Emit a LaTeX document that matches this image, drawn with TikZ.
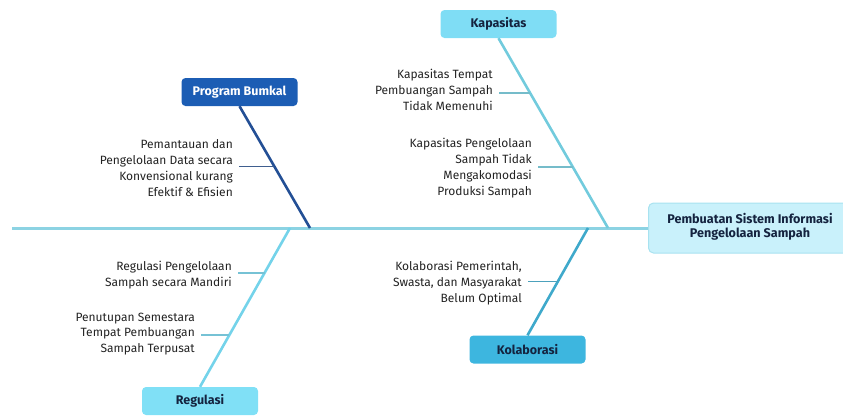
\documentclass[tikz,border=0pt]{standalone}
\usepackage{fontspec}
\setmainfont{Fira Sans}
\usetikzlibrary{calc}
\definecolor{spinec}{HTML}{8CD3E3}
\definecolor{headfill}{HTML}{C9F1FB}
\definecolor{headdraw}{HTML}{A8E2F0}
\definecolor{kapfill}{HTML}{7FDDF5}
\definecolor{kolfill}{HTML}{3DB6DF}
\definecolor{regfill}{HTML}{80E0F6}
\definecolor{pbfill}{HTML}{1C5DB4}
\definecolor{navy}{HTML}{14233F}
\definecolor{txt}{HTML}{222222}
\definecolor{pbline}{HTML}{234F95}
\definecolor{kapline}{HTML}{72CBDD}
\definecolor{regline}{HTML}{74D3EA}
\definecolor{kolline}{HTML}{3FA9CB}
\tikzset{
  catbox/.style={rounded corners=4pt, minimum width=116pt, minimum height=28pt, inner sep=0pt, font=\fontsize{12.5}{14}\selectfont\bfseries, text=navy},
  subtext/.style={align=right, anchor=east, inner sep=1pt, font=\fontsize{12}{15.8}\selectfont, text=txt},
  bone/.style={line width=2.6pt},
  twig/.style={line width=1.5pt},
}
\begin{document}
\begin{tikzpicture}[x=1pt,y=-1pt]
\useasboundingbox (0,0) rectangle (843,416);
% head
\node[draw=headdraw, fill=headfill, line width=1pt, rounded corners=5pt, minimum width=202pt, minimum height=50pt, anchor=west, inner sep=0pt] (head) at (648,228) {};
\node[align=center, font=\fontsize{12.6}{14}\selectfont\bfseries, text=navy] (headt) at (750,227) {Pembuatan Sistem Informasi\\Pengelolaan Sampah};
\coordinate (tail) at (12,228);
\draw[spinec, line width=3pt] (tail) -- (head.west);
% category boxes
\node[catbox, fill=kapfill] (kap) at (498.5,24) {Kapasitas};
\node[catbox, fill=pbfill, text=white] (pb) at (239.5,92) {Program Bumkal};
\node[catbox, fill=regfill] (reg) at (200,401) {Regulasi};
\node[catbox, fill=kolfill] (kol) at (527.5,349.5) {Kolaborasi};
% junctions on spine
\coordinate (kapS) at (608,228);
\coordinate (pbS) at (310,228);
\coordinate (regS) at (290,228);
\coordinate (kolS) at (588,228);
\draw[bone, kapline] (kap.south) -- (kapS);
\draw[bone, pbline] (pb.south) -- (pbS);
\draw[bone, regline] (reg.north) -- (regS);
\draw[bone, kolline] (kol.north) -- (kolS);
% points on bones
\path (kap.south) -- (kapS) coordinate[pos=0.289] (k1) coordinate[pos=0.679] (k2);
\path (pb.south) -- (pbS) coordinate[pos=0.496] (p1);
\path (regS) -- (reg.north) coordinate[pos=0.283] (r1) coordinate[pos=0.673] (r2);
\path (kolS) -- (kol.north) coordinate[pos=0.5] (c1);
% sub texts
\node[subtext] (tk1) at (494,90) {Kapasitas Tempat\\Pembuangan Sampah\\Tidak Memenuhi};
\node[subtext] (tk2) at (533,168) {Kapasitas Pengelolaan\\Sampah Tidak\\Mengakomodasi\\Produksi Sampah};
\node[subtext] (tp1) at (234,168) {Pemantauan dan\\Pengelolaan Data secara\\Konvensional kurang\\Efektif \& Efisien};
\node[subtext] (tr1) at (233,275) {Regulasi Pengelolaan\\Sampah secara Mandiri};
\node[subtext] (tr2) at (196,334) {Penutupan Semestara\\Tempat Pembuangan\\Sampah Terpusat};
\node[subtext] (tc1) at (523,283) {Kolaborasi Pemerintah,\\Swasta, dan Masyarakat\\Belum Optimal};
% twigs
\draw[twig, kapline!80!gray] ([xshift=5pt]tk1.east |- k1) -- (k1);
\draw[twig, kapline!80!gray] ([xshift=5pt]tk2.east |- k2) -- (k2);
\draw[twig, pbline!70!gray] ([xshift=5pt]tp1.east |- p1) -- (p1);
\draw[twig, regline!80!gray] ([xshift=5pt]tr1.east |- r1) -- (r1);
\draw[twig, regline!80!gray] ([xshift=5pt]tr2.east |- r2) -- (r2);
\draw[twig, kolline!80!gray] ([xshift=5pt]tc1.east |- c1) -- (c1);
\end{tikzpicture}
\end{document}
